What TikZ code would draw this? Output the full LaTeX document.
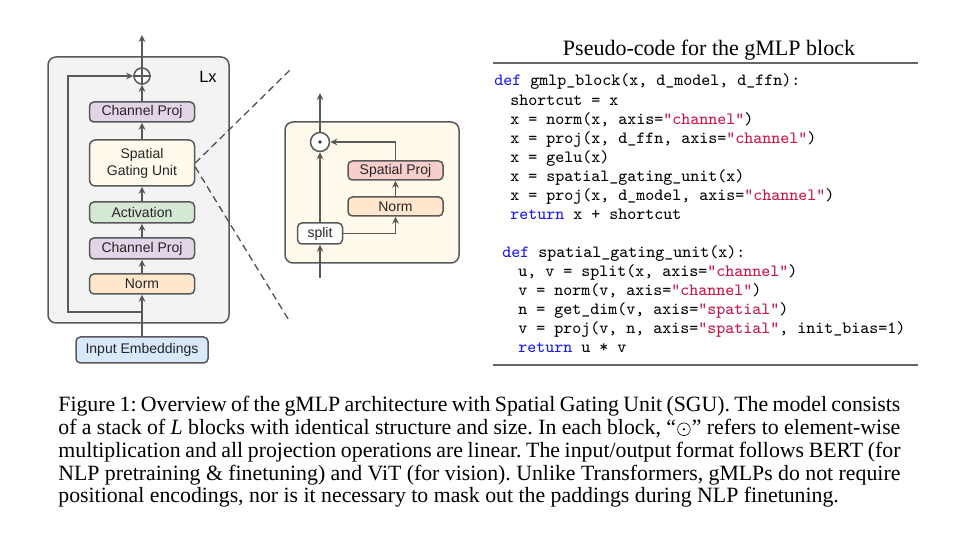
\documentclass[tikz,border=0pt]{standalone}
\usepackage{fontspec}
\setmainfont{Liberation Serif}
\setsansfont{Liberation Sans}
\usetikzlibrary{arrows.meta}

\definecolor{edge}{HTML}{595959}
\definecolor{blkfill}{HTML}{F3F3F3}
\definecolor{projfill}{HTML}{E1D5E7}
\definecolor{actfill}{HTML}{D5E8D4}
\definecolor{normfill}{HTML}{FFE6CC}
\definecolor{sgufill}{HTML}{FFFAEC}
\definecolor{inpfill}{HTML}{DAE8FC}
\definecolor{spfill}{HTML}{F8CECC}
\definecolor{kwblue}{RGB}{25,25,235}
\definecolor{strred}{RGB}{200,20,70}
\definecolor{rulegray}{HTML}{666666}

% code helpers
\newcommand{\kw}[1]{\textcolor{kwblue}{#1}}
\newcommand{\str}[1]{\textcolor{strred}{"#1"}}
% element-wise product sign for running text
\newcommand{\hadamard}{\kern0.06em\tikz[baseline=0pt]{\draw[line width=0.3pt] (0pt,0.25em) circle (0.29em); \fill (0pt,0.25em) circle (0.06em);}\kern0.06em}

\tikzset{
  box/.style={draw=edge, line width=0.75pt, rounded corners=2.2pt, inner sep=0pt,
    font=\sffamily\fontsize{7}{8.6}\selectfont, align=center, text=black!85},
  wire/.style={draw=edge, line width=0.75pt},
  arr/.style={wire, -{Stealth[length=3.6pt,width=3.4pt,inset=1.3pt]}},
  zoomline/.style={draw=edge!90!black, line width=0.65pt, dash pattern=on 3.5pt off 2.2pt},
  codeline/.style={anchor=base west, inner sep=0pt, font=\ttfamily\fontsize{8.57}{9.6}\selectfont},
  capline/.style={anchor=base west, inner sep=0pt, text height=7.4pt, text depth=2.1pt,
    font=\fontsize{10.9}{11.4}\selectfont},
}

\begin{document}
\frenchspacing
\begin{tikzpicture}[x=0.5pt,y=-0.5pt]
\useasboundingbox (0,0) rectangle (960,550);

% ---------- gMLP block ----------
\draw[draw=edge, fill=blkfill, line width=0.75pt, rounded corners=4pt] (48,57) rectangle (229,323);
\node[font=\sffamily\fontsize{8.2}{9}\selectfont, inner sep=0pt] (lx) at (208,77) {Lx};

\node[box, fill=inpfill, minimum width=66pt, minimum height=13pt] (inp) at (142,350) {Input Embeddings};
\node[box, fill=normfill, minimum width=52.5pt, minimum height=10pt] (norm1) at (142,284) {Norm};
\node[box, fill=projfill, minimum width=52.5pt, minimum height=10.5pt] (cp1) at (142,248.5) {Channel Proj};
\node[box, fill=actfill, minimum width=52.5pt, minimum height=10.5pt] (act) at (142,212.5) {Activation};
\node[box, fill=sgufill, minimum width=52.5pt, minimum height=23pt, rounded corners=3pt] (sgu) at (142,163) {Spatial\\Gating Unit};
\node[box, fill=projfill, minimum width=52.5pt, minimum height=10pt] (cp2) at (142,112) {Channel Proj};

\node[circle, draw=edge, line width=0.75pt, fill=white, minimum size=8pt, inner sep=0pt] (add) at (142,76) {};
\draw[wire] (add.north) -- (add.south) (add.west) -- (add.east);

\coordinate (out1) at (142,35);
\coordinate (fork) at (142,312);
\coordinate (skipa) at (68,312);
\coordinate (skipb) at (68,76);

\draw[arr] (inp.north) -- (norm1.south);
\draw[arr] (norm1.north) -- (cp1.south);
\draw[arr] (cp1.north) -- (act.south);
\draw[arr] (act.north) -- (sgu.south);
\draw[arr] (sgu.north) -- (cp2.south);
\draw[arr] (cp2.north) -- (add.south);
\draw[arr] (add.north) -- (out1);
\draw[arr] (fork) -- (skipa) -- (skipb) -- (add.west);

% ---------- zoom guides ----------
\coordinate (zu) at (290,70);
\coordinate (zd) at (290,322);
\draw[zoomline] (sgu.east) -- (zu);
\draw[zoomline] ([yshift=-2pt]sgu.east) -- (zd);

% ---------- Spatial Gating Unit detail ----------
\draw[draw=edge, fill=sgufill, line width=0.75pt, rounded corners=4pt] (285,122) rectangle (459,263);

\node[box, fill=white, minimum width=22.5pt, minimum height=10.5pt] (split) at (320,233.5) {split};
\node[box, fill=normfill, minimum width=47.5pt, minimum height=9.5pt] (norm2) at (395.5,206.5) {Norm};
\node[box, fill=spfill, minimum width=47.5pt, minimum height=9.5pt] (sproj) at (395.5,170.5) {Spatial Proj};
\node[circle, draw=edge, line width=0.75pt, fill=white, minimum size=9.5pt, inner sep=0pt] (mul) at (320,142) {};
\fill[black!80] (mul) circle (0.9pt);

\coordinate (in2) at (320,278);
\coordinate (out2) at (320,93);

\draw[arr] (in2) -- (split.south);
\draw[arr] (split.north) -- (mul.south);
\draw[arr] (mul.north) -- (out2);
\draw[arr] (split.east) -| (norm2.south);
\draw[arr] (norm2.north) -- (sproj.south);
\draw[arr] (sproj.north) |- (mul.east);

% ---------- pseudo-code ----------
\node[anchor=base, inner sep=0pt, font=\fontsize{11}{13}\selectfont] (title) at (709,56) {Pseudo-code for the gMLP block};
\coordinate (r1a) at (493,63);
\coordinate (r1b) at (918,63);
\coordinate (r2a) at (493,365);
\coordinate (r2b) at (918,365);
\draw[draw=rulegray, line width=0.7pt] (r1a) -- (r1b);
\draw[draw=rulegray, line width=0.7pt] (r2a) -- (r2b);

\node[codeline] (c1) at (494,86) {\kw{def} gmlp\_block(x, d\_model, d\_ffn):};
\node[codeline] (c2) at (510,105.05) {shortcut = x};
\node[codeline] (c3) at (510,124.1) {x = norm(x, axis=\str{channel})};
\node[codeline] (c4) at (510,143.15) {x = proj(x, d\_ffn, axis=\str{channel})};
\node[codeline] (c5) at (510,162.2) {x = gelu(x)};
\node[codeline] (c6) at (510,181.25) {x = spatial\_gating\_unit(x)};
\node[codeline] (c7) at (510,200.3) {x = proj(x, d\_model, axis=\str{channel})};
\node[codeline] (c8) at (510,219.35) {\kw{return} x + shortcut};

\node[codeline] (c9) at (502,257.45) {\kw{def} spatial\_gating\_unit(x):};
\node[codeline] (c10) at (518,276.5) {u, v = split(x, axis=\str{channel})};
\node[codeline] (c11) at (518,295.55) {v = norm(v, axis=\str{channel})};
\node[codeline] (c12) at (518,314.6) {n = get\_dim(v, axis=\str{spatial})};
\node[codeline] (c13) at (518,333.65) {v = proj(v, n, axis=\str{spatial}, init\_bias=1)};
\node[codeline] (c14) at (518,352.7) {\kw{return} u * v};

% ---------- caption ----------
\node[capline] (cap1) at (58,412) {\hbox to 421pt{Figure 1: Overview of the gMLP architecture with Spatial Gating Unit (SGU). The model consists}};
\node[capline] (cap2) at (58,434.75) {\hbox to 421pt{of a stack of \textit{L} blocks with identical structure and size. In each block, “\hadamard” refers to element-wise}};
\node[capline] (cap3) at (58,457.5) {\hbox to 421pt{multiplication and all projection operations are linear. The input/output format follows BERT (for}};
\node[capline] (cap4) at (58,480.25) {\hbox to 421pt{NLP pretraining \& finetuning) and ViT (for vision). Unlike Transformers, gMLPs do not require}};
\node[capline] (cap5) at (58,503) {positional encodings, nor is it necessary to mask out the paddings during NLP finetuning.};
\end{tikzpicture}
\end{document}
